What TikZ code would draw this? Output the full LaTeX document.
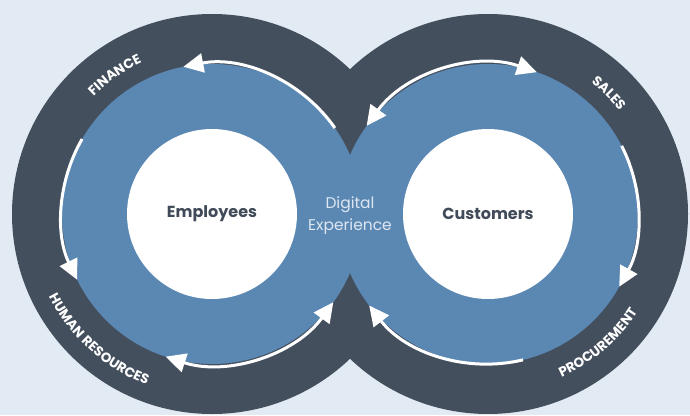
\documentclass[tikz,border=0pt]{standalone}
\usepackage{fontspec}
\setmainfont{Poppins}
\usetikzlibrary{arrows.meta,decorations.text}

\definecolor{bgblue}{RGB}{226,235,243}
\definecolor{ringdark}{RGB}{68,79,94}
\definecolor{ringblue}{RGB}{91,136,179}
\definecolor{hubtext}{RGB}{64,74,88}
\definecolor{midtext}{RGB}{222,231,241}

\newcommand{\ringfont}{\color{white}\fontsize{13.5}{15}\selectfont\bfseries\addfontfeature{LetterSpace=6}}

\tikzset{every picture/.style={line width=0.75pt}}
\tikzset{
  flow/.style={draw=white, line width=3pt, -{Triangle[length=20pt,width=19pt]}},
  flowboth/.style={draw=white, line width=3pt, {Triangle[length=20pt,width=19pt]}-{Triangle[length=20pt,width=19pt]}},
  ringlabel/.style={decorate, decoration={text along path, text align=center, text={|\ringfont|#1}}},
  hub/.style={font=\fontsize{16}{18}\selectfont\bfseries, text=hubtext}
}

\begin{document}
\begin{tikzpicture}[x=1pt,y=1pt,yscale=-1,xscale=1]
%Shape: Background
\fill[bgblue] (0,0) rectangle (690,415);

\coordinate (emp) at (212,214);
\coordinate (cus) at (488,214);

%Shape: Circle (outer rings)
\fill[ringdark] (emp) circle[radius=200];
\fill[ringdark] (cus) circle[radius=200];
%Shape: Circle (blue rings)
\fill[ringblue] (emp) circle[radius=150];
\fill[ringblue] (cus) circle[radius=150];
%Shape: Circle (hubs)
\fill[white] (emp) circle[radius=85];
\fill[white] (cus) circle[radius=85];

%Curve Lines (left loop)
\draw[flow] ([shift={(-35:150)}]emp) arc[start angle=-35, end angle=-101, radius=150];
\draw[flow] ([shift={(-150:150)}]emp) arc[start angle=-150, end angle=-206, radius=150];
\draw[flowboth] ([shift={(-252:150)}]emp) arc[start angle=-252, end angle=-324, radius=150];
%Curve Lines (right loop)
\draw[flowboth] ([shift={(-144:150)}]cus) arc[start angle=-144, end angle=-71, radius=150];
\draw[flow] ([shift={(-27:150)}]cus) arc[start angle=-27, end angle=29, radius=150];
\draw[flow] ([shift={(76.5:150)}]cus) arc[start angle=76.5, end angle=142.4, radius=150];

% Text along the rings
\path[ringlabel=FINANCE] ([shift={(-160:167)}]emp) arc[start angle=-160, end angle=-90, radius=167];
\path[ringlabel=HUMAN RESOURCES] ([shift={(-180:183)}]emp) arc[start angle=-180, end angle=-276, radius=183];
\path[ringlabel=SALES] ([shift={(-80:167)}]cus) arc[start angle=-80, end angle=-10, radius=167];
\path[ringlabel=PROCUREMENT] ([shift={(95:179)}]cus) arc[start angle=95, end angle=4, radius=179];

% Text Node
\node[hub] (employees) at (emp) {Employees};
% Text Node
\node[hub] (customers) at (cus) {Customers};
% Text Node
\node[align=center, text=midtext, font=\fontsize{15.5}{22}\selectfont] (digital) at (350,216) {Digital\\Experience};

\end{tikzpicture}
\end{document}
